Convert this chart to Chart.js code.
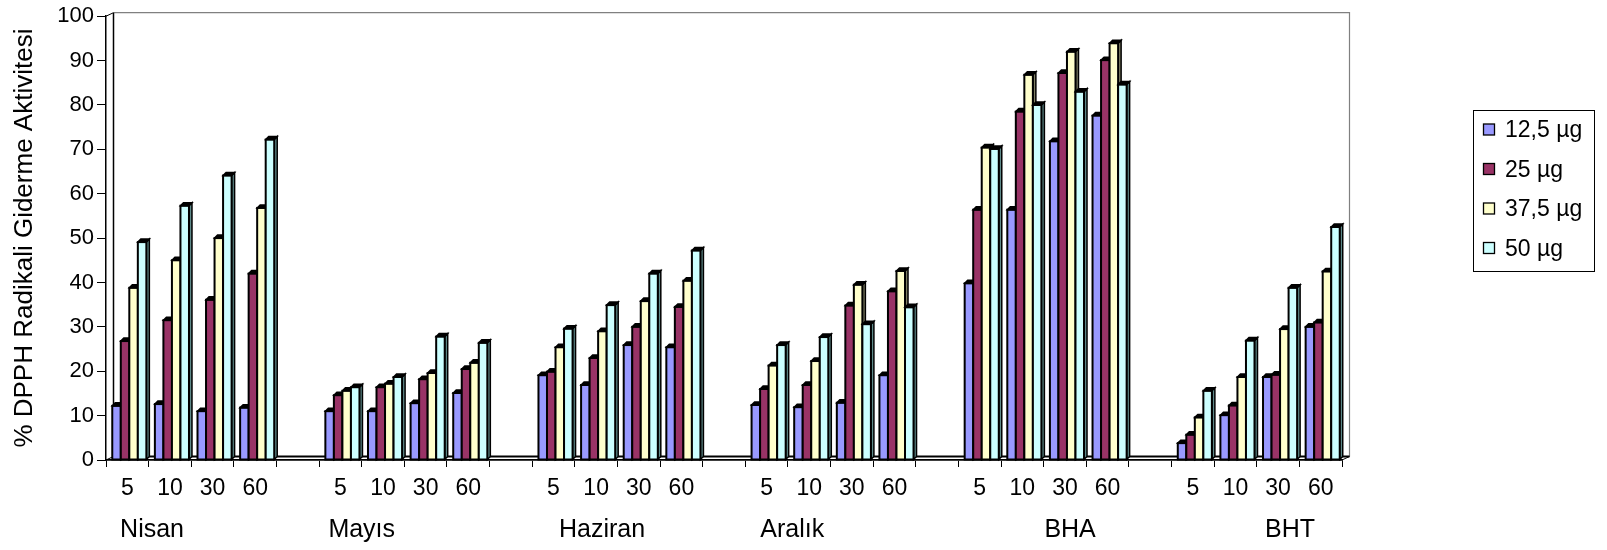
<!DOCTYPE html>
<html>
<head>
<meta charset="utf-8">
<script src="https://cdn.jsdelivr.net/npm/chart.js@4.4.1/dist/chart.umd.min.js"></script>
<style>
  html, body { margin: 0; padding: 0; background: #ffffff; }
  canvas { display: block; }
</style>
</head>
<body>
<canvas id="chart" width="1607" height="550"></canvas>
<script>
// Sample groups and the reaction times measured for each of them (minutes)
const groups = ['Nisan', 'Mayıs', 'Haziran', 'Aralık', 'BHA', 'BHT'];
const times = ['5', '10', '30', '60'];

// Dose series names
const seriesNames = ['12,5 µg', '25 µg', '37,5 µg', '50 µg'];

// % DPPH radical scavenging activity, 4 times per group, groups in order above
const dose12_5 = [12.2, 12.6, 11.0, 11.8,  11.0, 11.0, 12.8, 15.1,  19.1, 16.9, 25.9, 25.4,  12.4, 11.9, 12.9, 19.1,  39.8, 56.4, 71.8, 77.6,  3.8, 10.1, 18.7, 30.0];
const dose25   = [26.8, 31.5, 36.1, 42.0,  14.6, 16.4, 18.2, 20.5,  19.9, 23.0, 30.0, 34.5,  16.0, 16.9, 34.8, 38.0,  56.4, 78.5, 87.2, 90.1,  5.7, 12.3, 19.2, 31.0];
const dose37_5 = [38.8, 45.0, 50.0, 56.8,  15.6, 17.2, 19.6, 21.9,  25.4, 29.0, 35.8, 40.4,  21.3, 22.3, 39.5, 42.6,  70.4, 86.8, 92.0, 93.9,  9.6, 18.7, 29.5, 42.5];
const dose50   = [49.1, 57.3, 64.1, 72.2,  16.4, 18.7, 27.8, 26.4,  29.6, 34.9, 42.0, 47.2,  25.9, 27.7, 30.6, 34.4,  70.1, 80.0, 83.0, 84.6,  15.6, 26.9, 38.8, 52.5];

// Value axis ticks
const yTicks = [0, 10, 20, 30, 40, 50, 60, 70, 80, 90, 100];

// Colours: front faces and the shaded side faces of the 3D columns
const frontColors = ['#9999FF', '#993366', '#FFFFCC', '#CCFFFF'];
const sideColors  = ['#4d4d80', '#4d1a33', '#808066', '#5f8a8a'];

// Expand the per-group values into the category list, with an empty slot between groups
function withGaps(values) {
  const out = [];
  groups.forEach((g, gi) => {
    times.forEach((t, ti) => out.push(values[gi * times.length + ti]));
    if (gi < groups.length - 1) out.push(null);
  });
  return out;
}
const categoryLabels = [];
groups.forEach((g, gi) => {
  times.forEach(t => categoryLabels.push(t));
  if (gi < groups.length - 1) categoryLabels.push('');
});

const seriesValues = [dose12_5, dose25, dose37_5, dose50];

const FONT = '"Liberation Sans", Arial, sans-serif';
const DEPTH_X = 7.5, DEPTH_Y = 3.5;   // depth of the 3D floor / back wall
const BAR_DX = 3, BAR_DY = 3;         // depth of each column
const BAR_SHIFT = 2;                  // columns sit slightly back on the floor

// Back wall and floor of the 3D plot
const wallPlugin = {
  id: 'wall3d',
  beforeDatasetsDraw(chart) {
    const { ctx, chartArea: a } = chart;
    ctx.save();
    // back wall outline (top and right edges grey)
    ctx.strokeStyle = '#808080';
    ctx.lineWidth = 1.2;
    ctx.beginPath();
    ctx.moveTo(a.left + DEPTH_X, a.top - DEPTH_Y);
    ctx.lineTo(a.right + DEPTH_X, a.top - DEPTH_Y);
    ctx.lineTo(a.right + DEPTH_X, a.bottom - DEPTH_Y);
    ctx.stroke();
    // left back edge and connecting diagonals
    ctx.strokeStyle = '#000000';
    ctx.lineWidth = 1.5;
    ctx.beginPath();
    ctx.moveTo(a.left + DEPTH_X, a.top - DEPTH_Y);
    ctx.lineTo(a.left + DEPTH_X, a.bottom - DEPTH_Y);
    ctx.stroke();
    ctx.lineWidth = 1;
    ctx.beginPath();
    ctx.moveTo(a.left, a.top);
    ctx.lineTo(a.left + DEPTH_X, a.top - DEPTH_Y);
    ctx.moveTo(a.left, a.bottom);
    ctx.lineTo(a.left + DEPTH_X, a.bottom - DEPTH_Y);
    ctx.moveTo(a.right, a.bottom);
    ctx.lineTo(a.right + DEPTH_X, a.bottom - DEPTH_Y);
    ctx.stroke();
    // floor back edge
    ctx.lineWidth = 1.8;
    ctx.beginPath();
    ctx.moveTo(a.left + DEPTH_X, a.bottom - DEPTH_Y);
    ctx.lineTo(a.right + DEPTH_X, a.bottom - DEPTH_Y);
    ctx.stroke();
    ctx.restore();
  }
};

// Columns drawn as 3D blocks from the bar elements laid out by the scales
const columnsPlugin = {
  id: 'columns3d',
  afterDatasetsDraw(chart) {
    const { ctx } = chart;
    ctx.save();
    ctx.lineJoin = 'miter';
    ctx.strokeStyle = '#000';
    chart.data.datasets.forEach((ds, di) => {
      const meta = chart.getDatasetMeta(di);
      meta.data.forEach((bar, i) => {
        const v = ds.data[i];
        if (v === null || v === undefined) return;
        const p = bar.getProps(['x', 'y', 'base', 'width'], true);
        const l = p.x - p.width / 2 + BAR_SHIFT, r = p.x + p.width / 2 + BAR_SHIFT;
        const t = p.y, b = p.base;
        // side face
        ctx.beginPath();
        ctx.moveTo(r, t);
        ctx.lineTo(r + BAR_DX, t - BAR_DY);
        ctx.lineTo(r + BAR_DX, b - BAR_DY);
        ctx.lineTo(r, b);
        ctx.closePath();
        ctx.fillStyle = sideColors[di];
        ctx.fill();
        ctx.lineWidth = 1.5;
        ctx.stroke();
        // front face
        ctx.fillStyle = frontColors[di];
        ctx.fillRect(l, t, r - l, b - t);
        ctx.lineWidth = 2;
        ctx.strokeRect(l, t, r - l, b - t);
        // top face
        ctx.beginPath();
        ctx.moveTo(l, t);
        ctx.lineTo(l + BAR_DX, t - BAR_DY);
        ctx.lineTo(r + BAR_DX, t - BAR_DY);
        ctx.lineTo(r, t);
        ctx.closePath();
        ctx.fillStyle = '#000';
        ctx.fill();
        ctx.lineWidth = 1.5;
        ctx.stroke();
      });
    });
    ctx.restore();
  }
};

// Group names under the time labels, and the legend box
const GROUP_ANCHORS = [0.58, 5.5, 11.14, 15.6, 22.12, 27.28];
const annotationsPlugin = {
  id: 'groupsAndLegend',
  afterDraw(chart) {
    const { ctx } = chart;
    const xs = chart.scales.x;
    ctx.save();
    ctx.fillStyle = '#000';
    ctx.font = '25px ' + FONT;
    ctx.textAlign = 'center';
    ctx.textBaseline = 'middle';
    groups.forEach((g, gi) => {
      ctx.fillText(g, xs.getPixelForValue(GROUP_ANCHORS[gi]), 530);
    });

    // legend
    const lx = 1473.5, ly = 110.5, lw = 121, lh = 161;
    ctx.strokeStyle = '#000';
    ctx.lineWidth = 1;
    ctx.strokeRect(lx, ly, lw, lh);
    ctx.font = '23px ' + FONT;
    ctx.textAlign = 'left';
    chart.data.datasets.forEach((ds, di) => {
      const cy = 130 + di * 39.5;
      ctx.fillStyle = frontColors[di];
      ctx.fillRect(1483.5, cy - 6, 11, 11);
      ctx.lineWidth = 1.3;
      ctx.strokeRect(1483.5, cy - 6, 11, 11);
      ctx.fillStyle = '#000';
      ctx.fillText(ds.label, 1505, cy + 1);
    });
    ctx.restore();
  }
};

new Chart(document.getElementById('chart'), {
  type: 'bar',
  data: {
    labels: categoryLabels,
    datasets: seriesNames.map((name, si) => ({
      label: name,
      data: withGaps(seriesValues[si]),
      backgroundColor: 'rgba(0,0,0,0)',
      borderWidth: 0,
      categoryPercentage: 0.8,
      barPercentage: 1.0
    }))
  },
  options: {
    responsive: false,
    devicePixelRatio: 1,
    animation: false,
    layout: { padding: { top: 14, right: 265, left: 0, bottom: 0 } },
    plugins: {
      legend: { display: false },
      tooltip: { enabled: false },
      title: { display: false }
    },
    scales: {
      x: {
        type: 'category',
        afterFit(scale) { scale.height = 90; },
        grid: {
          display: true,
          offset: true,
          drawOnChartArea: false,
          drawTicks: true,
          tickLength: 7,
          color: '#000',
          lineWidth: 1
        },
        border: { display: true, color: '#000', width: 1.8 },
        ticks: {
          color: '#000',
          font: { family: FONT, size: 23 },
          padding: 8,
          maxRotation: 0,
          minRotation: 0,
          autoSkip: false
        }
      },
      y: {
        min: 0,
        max: 100,
        afterFit(scale) { scale.width = 106; },
        afterBuildTicks(scale) { scale.ticks = yTicks.map(v => ({ value: v })); },
        grid: {
          display: true,
          drawOnChartArea: false,
          drawTicks: true,
          tickLength: 9,
          color: '#000',
          lineWidth: 1
        },
        border: { display: true, color: '#000', width: 1.5 },
        ticks: {
          color: '#000',
          font: { family: FONT, size: 22 },
          padding: 3
        },
        title: {
          display: true,
          text: '% DPPH Radikali Giderme Aktivitesi',
          color: '#000',
          font: { family: FONT, size: 26 },
          padding: { top: 9, bottom: 0 }
        }
      }
    }
  },
  plugins: [wallPlugin, columnsPlugin, annotationsPlugin]
});
</script>
</body>
</html>
